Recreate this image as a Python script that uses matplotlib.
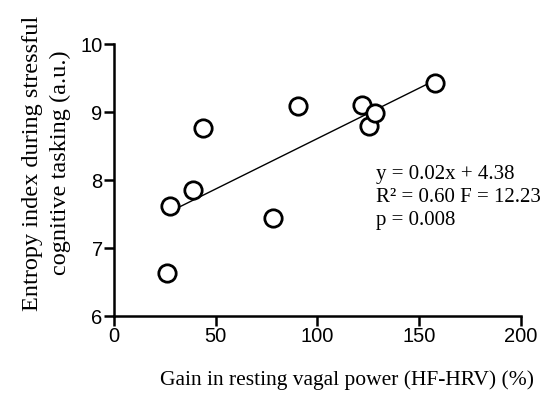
import numpy as np
import matplotlib.pyplot as plt

# gain in resting vagal power (%) vs entropy index
gain = [26.2, 27.5, 38.7, 43.6, 78.3, 90.6, 122.0, 125.3, 128.5, 157.7]
entropy = [6.64, 7.62, 7.85, 8.77, 7.44, 9.09, 9.10, 8.79, 8.98, 9.42]

xticks = [0, 50, 100, 150, 200]
yticks = [6, 7, 8, 9, 10]
stats_txt = "y = 0.02x + 4.38\nR² = 0.60 F = 12.23\np = 0.008"

fig = plt.figure(figsize=(5.5, 3.97), dpi=100)
ax = fig.add_axes([0.207, 0.204, 0.74, 0.685])

# regression line
m, b = np.polyfit(gain, entropy, 1)
xl = np.array([min(gain) + 1, max(gain)])
ax.plot(xl, m * xl + b, color="black", lw=1)

ax.plot(gain, entropy, "o", ms=12.5, mfc="white", mec="black", mew=2,
        clip_on=False)

ax.set_xlim(0, 200)
ax.set_ylim(6, 10)
ax.set_xticks(xticks)
ax.set_yticks(yticks)
ax.tick_params(width=1.8, length=7, labelsize=14.5, pad=1)
for lbl in ax.get_xticklabels() + ax.get_yticklabels():
    lbl.set_fontfamily("Liberation Sans")
for s in ["top", "right"]:
    ax.spines[s].set_visible(False)
for s in ["left", "bottom"]:
    ax.spines[s].set_linewidth(1.8)

ax.set_xlabel("Gain in resting vagal power (HF-HRV) (%)", family="Liberation Serif",
              fontsize=15.5)
ax.xaxis.set_label_coords(0.573, -0.2)
ax.set_ylabel("Entropy index during stressful\ncognitive tasking (a.u.)",
              family="Liberation Serif", fontsize=17.5, linespacing=1.4)
ax.yaxis.set_label_coords(-0.105, 0.5625)

ax.text(129, 7.74, stats_txt, family="Liberation Serif", fontsize=15,
        va="center", ha="left", linespacing=1.3)

fig.savefig("out.png", dpi=100)
